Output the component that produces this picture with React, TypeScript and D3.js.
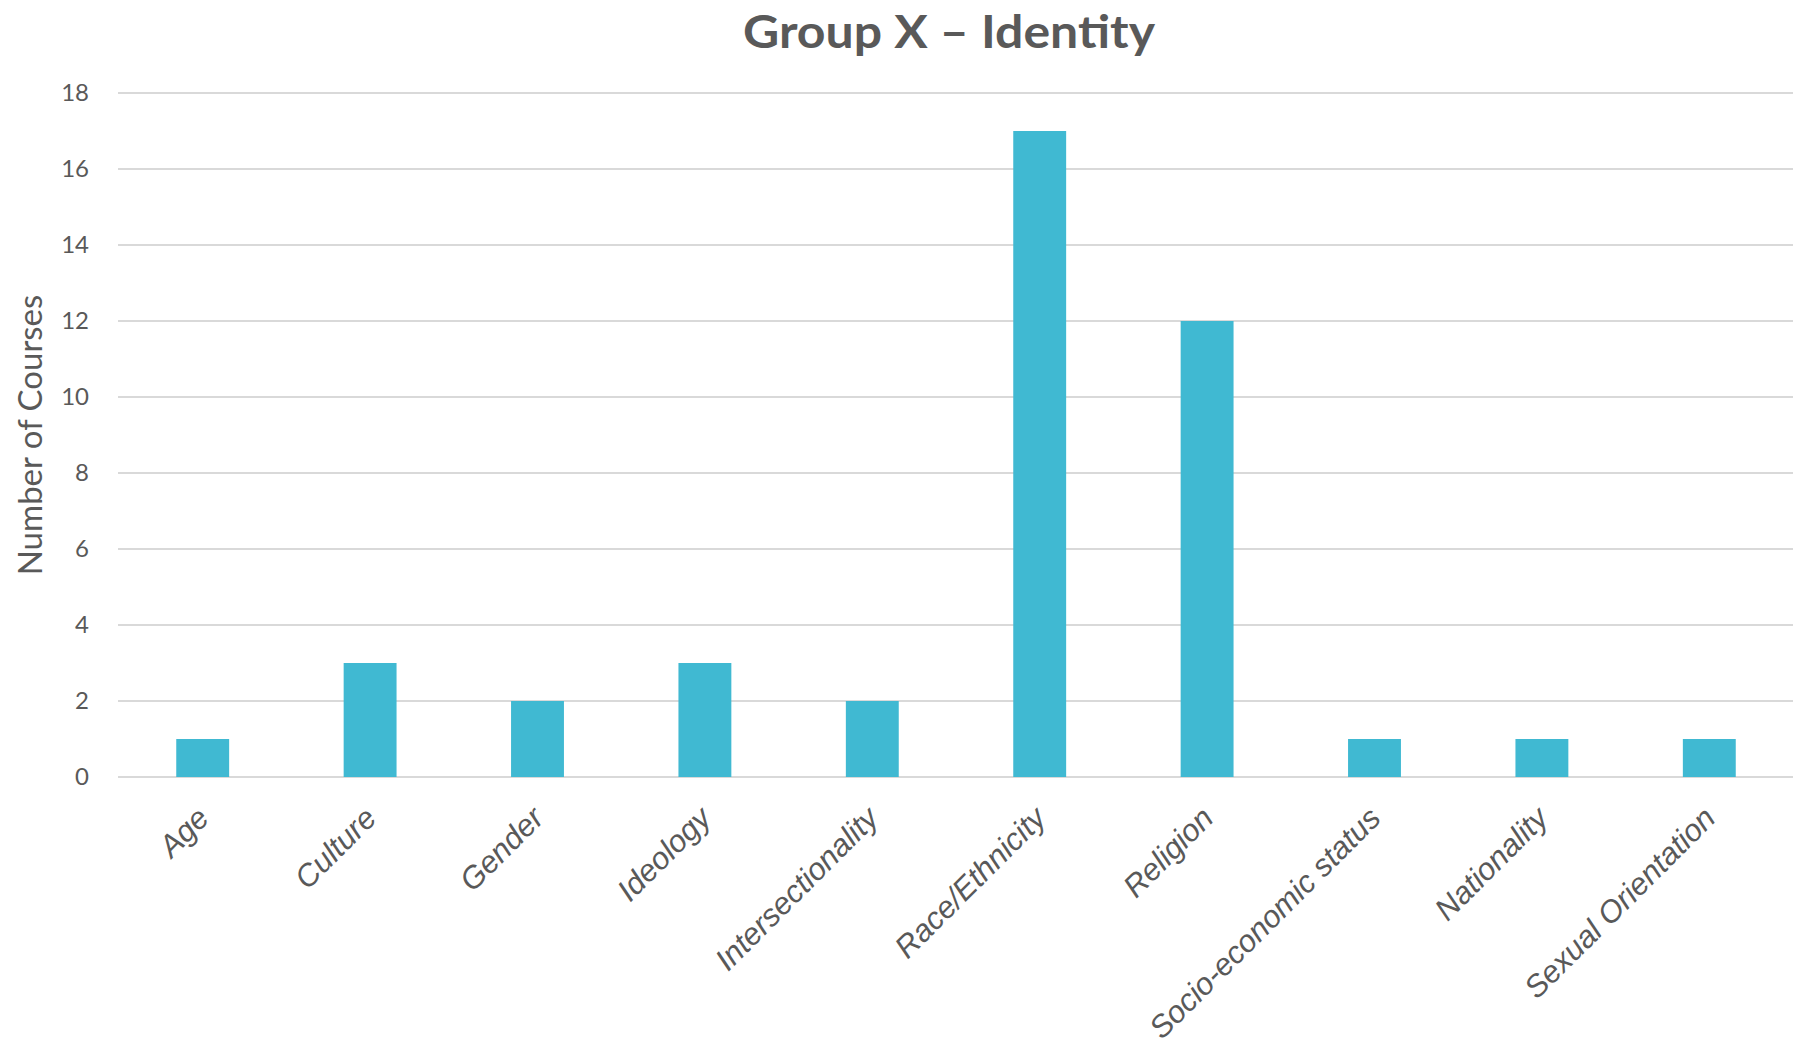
import React from "react";
import * as d3 from "d3";

const categories = [
  "Age",
  "Culture",
  "Gender",
  "Ideology",
  "Intersectionality",
  "Race/Ethnicity",
  "Religion",
  "Socio-economic status",
  "Nationality",
  "Sexual Orientation",
];
const values = [1, 3, 2, 3, 2, 17, 12, 1, 1, 1];
const yTicks = [0, 2, 4, 6, 8, 10, 12, 14, 16, 18];
const title = "Group X – Identity";
const yTitle = "Number of Courses";

const W = 1803;
const H = 1045;
const left = 119;
const right = 1793;
const top = 93;
const bottom = 777;

export default function App() {
  const x = d3.scaleBand<string>().domain(categories).range([left, right]).paddingInner(0.684).paddingOuter(0.342);
  const y = d3.scaleLinear().domain([0, 18]).range([bottom, top]);
  const barW = x.bandwidth();
  const cx = (c: string) => (x(c) as number) + barW / 2;
  return (
    <svg width={W} height={H} style={{ position: "absolute", left: 0, top: 0, background: "#fff" }}>
      <text
        x={949}
        y={48}
        textAnchor="middle"
        fontFamily="Lato"
        fontWeight={700}
        fontSize={46}
        textLength={412}
        lengthAdjust="spacingAndGlyphs"
        fill="#595959"
      >
        {title}
      </text>
      {yTicks.map((t) => (
        <g key={t}>
          <line x1={118} x2={right} y1={y(t)} y2={y(t)} stroke="#D9D9D9" strokeWidth={2} />
          <text x={89} y={y(t)} dy="0.35em" textAnchor="end" fontFamily="Lato" fontSize={24} fill="#595959">
            {t}
          </text>
        </g>
      ))}
      {categories.map((c, i) => (
        <rect key={c} x={x(c)} y={y(values[i])} width={barW} height={y(0) - y(values[i])} fill="#40B9D2" />
      ))}
      {categories.map((c) => (
        <text
          key={c}
          transform={`translate(${cx(c) + 8},${820}) rotate(-45)`}
          textAnchor="end"
          fontFamily="Liberation Sans"
          fontStyle="italic"
          fontSize={31}
          fill="#595959"
        >
          {c}
        </text>
      ))}
      <text
        transform={`translate(${42},${435}) rotate(-90)`}
        textAnchor="middle"
        fontFamily="Lato"
        fontSize={33}
        fill="#595959"
      >
        {yTitle}
      </text>
    </svg>
  );
}
